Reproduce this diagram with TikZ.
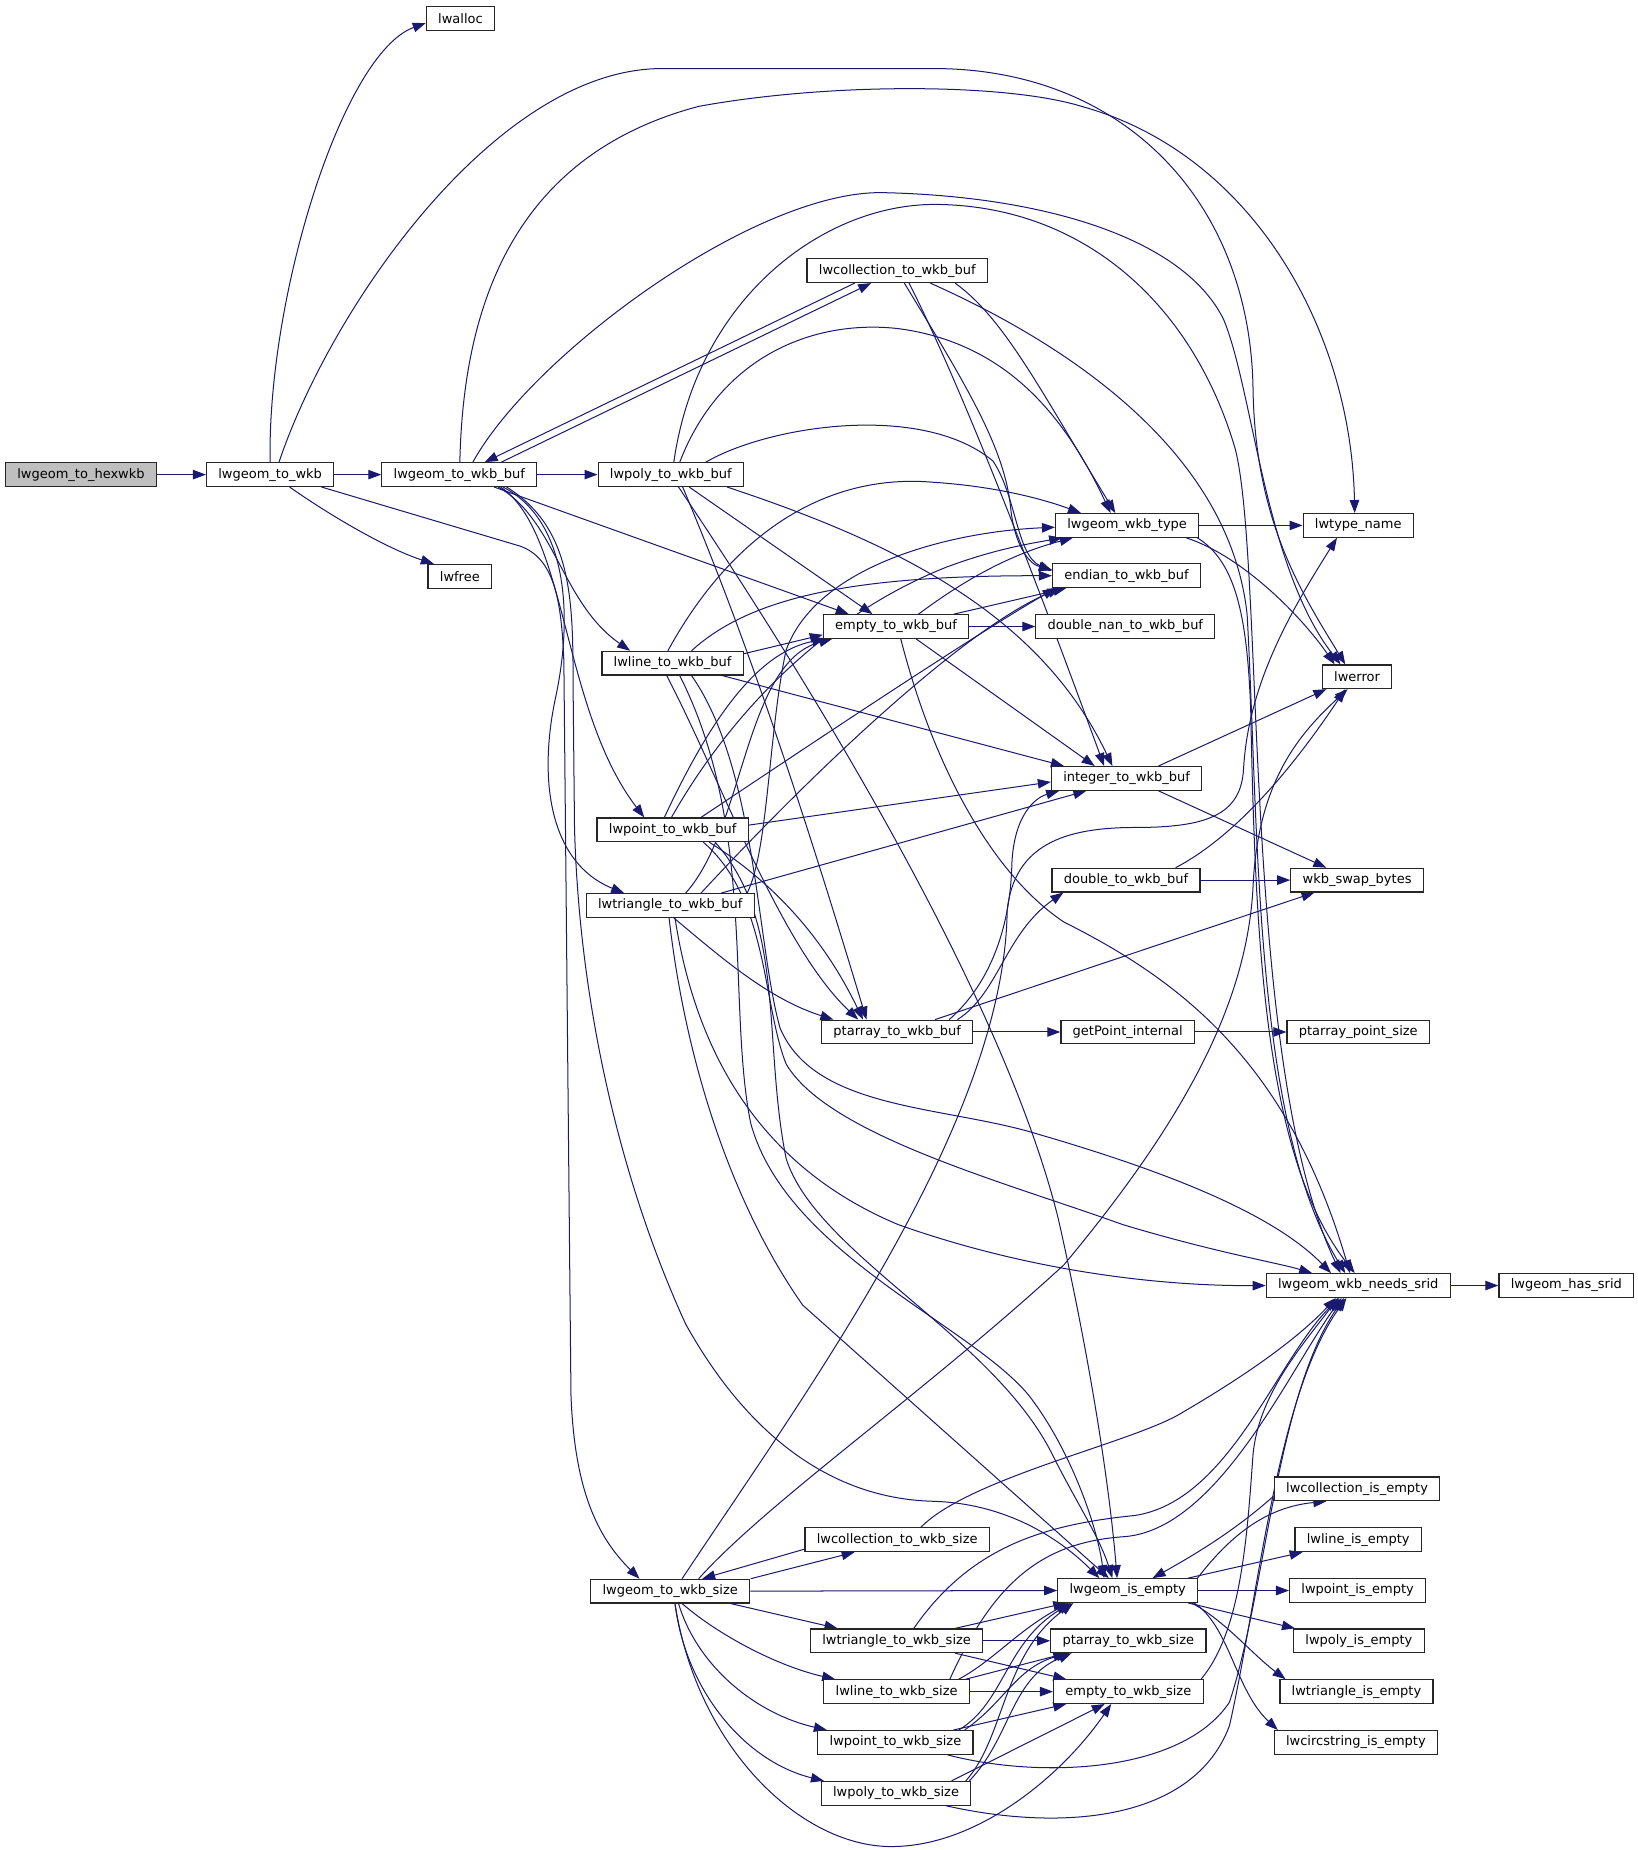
\documentclass[tikz,border=0pt]{standalone}
\usepackage{fontspec}
\setmainfont{DejaVu Sans}
\usetikzlibrary{arrows.meta}
\definecolor{edgec}{HTML}{191970}
\definecolor{hexfill}{HTML}{BFBFBF}
\pgfdeclarelayer{paper}
\pgfdeclarelayer{bg}
\pgfsetlayers{paper,bg,main}
\begin{document}
\begin{tikzpicture}[x=1pt,y=-1pt,
 box/.style={draw=black!85,line width=1pt,fill=white,minimum height=20pt,inner xsep=10pt,inner ysep=0pt,font=\fontsize{11}{13}\selectfont,anchor=center},
 edg/.style={draw=edgec,line width=0.85pt,-{Triangle[length=11pt,width=8pt]}}]
\useasboundingbox (0,0) rectangle (1385,1565);
\begin{pgfonlayer}{paper}
\fill[white] (0,0) rectangle (1385,1565);
\end{pgfonlayer}
% nodes
\node[box,fill=hexfill] (hex) at (68.5,401.5) {lwgeom\_to\_hexwkb};
\node[box] (wkb) at (228.5,401.5) {lwgeom\_to\_wkb};
\node[box] (alloc) at (389.5,15.5) {lwalloc};
\node[box] (free) at (389,487.5) {lwfree};
\node[box] (buf) at (388.5,401.5) {lwgeom\_to\_wkb\_buf};
\node[box] (polybuf) at (567.5,401.5) {lwpoly\_to\_wkb\_buf};
\node[box] (collbuf) at (759,229) {lwcollection\_to\_wkb\_buf};
\node[box] (wkbtype) at (953.5,444.5) {lwgeom\_wkb\_type};
\node[box] (typename) at (1149,444.5) {lwtype\_name};
\node[box] (endian) at (953,487) {endian\_to\_wkb\_buf};
\node[box] (dnan) at (952,530) {double\_nan\_to\_wkb\_buf};
\node[box] (emptybuf) at (758,530) {empty\_to\_wkb\_buf};
\node[box] (linebuf) at (569,561) {lwline\_to\_wkb\_buf};
\node[box] (lwerror) at (1148,572.5) {lwerror};
\node[box] (integer) at (953,658.5) {integer\_to\_wkb\_buf};
\node[box] (pointbuf) at (569,702) {lwpoint\_to\_wkb\_buf};
\node[box] (tribuf) at (567,766) {lwtriangle\_to\_wkb\_buf};
\node[box] (doublebuf) at (952.5,744.5) {double\_to\_wkb\_buf};
\node[box] (swap) at (1148,744.5) {wkb\_swap\_bytes};
\node[box] (ptbuf) at (759,873) {ptarray\_to\_wkb\_buf};
\node[box] (getpoint) at (954,873) {getPoint\_internal};
\node[box] (ptsize) at (1149,873) {ptarray\_point\_size};
\node[box] (needsrid) at (1149,1087.5) {lwgeom\_wkb\_needs\_srid};
\node[box] (hassrid) at (1325,1087.5) {lwgeom\_has\_srid};
\node[box] (collempty) at (1148,1259.5) {lwcollection\_is\_empty};
\node[box] (collsize) at (759,1302.5) {lwcollection\_to\_wkb\_size};
\node[box] (lineempty) at (1149,1302.5) {lwline\_is\_empty};
\node[box] (tosize) at (567,1346) {lwgeom\_to\_wkb\_size};
\node[box] (isempty) at (954,1345.5) {lwgeom\_is\_empty};
\node[box] (pointempty) at (1148.5,1345.5) {lwpoint\_is\_empty};
\node[box] (trisize) at (758.5,1388) {lwtriangle\_to\_wkb\_size};
\node[box] (ptsizeb) at (954.5,1388) {ptarray\_to\_wkb\_size};
\node[box] (polyempty) at (1149.5,1388) {lwpoly\_is\_empty};
\node[box] (linesize) at (758.5,1431) {lwline\_to\_wkb\_size};
\node[box] (emptysize) at (954.5,1431) {empty\_to\_wkb\_size};
\node[box] (triempty) at (1147.5,1431) {lwtriangle\_is\_empty};
\node[box] (pointsize) at (757.5,1474) {lwpoint\_to\_wkb\_size};
\node[box] (circempty) at (1147,1474) {lwcircstring\_is\_empty};
\node[box] (polysize) at (758,1517) {lwpoly\_to\_wkb\_size};
\begin{pgfonlayer}{bg}
% hex, wkb
\draw[edg] (hex.east) -- (wkb.west);
\draw[edg] (wkb.east) -- (buf.west);
\draw[edg] (wkb.north) .. controls (226,250) and (290,45) .. ([yshift=-4pt]alloc.west);
\draw[edg] ([xshift=7.5pt]wkb.north) .. controls (280,260) and (420,58) .. (560,58) -- (790,58) .. controls (950,58) and (1058,170) .. (1060,330) .. controls (1062,440) and (1100,500) .. ([xshift=-10pt]lwerror.north);
\draw[edg] ([xshift=16.5pt]wkb.south) .. controls (285,440) and (330,465) .. ([xshift=-22pt]free.north);
\draw[edg] ([xshift=43.5pt]wkb.south) -- (440,462) .. controls (468,472) and (475,505) .. (477,560) -- (483,1180) .. controls (486,1260) and (505,1300) .. ([xshift=-26pt]tosize.north);
% buf
\draw[edg] (buf.east) -- (polybuf.west);
\draw[edg] ([xshift=35.5pt]buf.north) -- ([xshift=-22pt]collbuf.south);
\draw[edg] ([xshift=-36pt]collbuf.south) -- ([xshift=21.5pt]buf.north);
\draw[edg] ([xshift=0.5pt]buf.north) .. controls (392,250) and (440,130) .. (591,90) .. controls (700,70) and (850,70) .. (915,90) .. controls (1060,130) and (1143,280) .. ([xshift=-3pt]typename.north);
\draw[edg] ([xshift=11.5pt]buf.north) .. controls (450,300) and (640,160) .. (748,163) .. controls (880,166) and (1000,200) .. (1035,270) .. controls (1060,330) and (1070,480) .. ([xshift=-14pt]lwerror.north);
\draw[edg] ([xshift=29.5pt]buf.south) -- ([xshift=-40pt]emptybuf.north);
\draw[edg] ([xshift=33pt]buf.south) .. controls (470,440) and (475,510) .. ([xshift=-36pt]linebuf.north);
\draw[edg] ([xshift=35pt]buf.south) .. controls (480,450) and (475,600) .. ([xshift=-24pt]pointbuf.north);
\draw[edg] ([xshift=37pt]buf.south) .. controls (480,440) and (485,520) .. (470,590) .. controls (455,660) and (465,730) .. ([xshift=-39pt]tribuf.north);
\draw[edg] ([xshift=40pt]buf.south) .. controls (490,450) and (484,520) .. (485,600) -- (486,700) .. controls (490,850) and (525,1000) .. (580,1120) .. controls (630,1210) and (700,1268) .. (790,1270) .. controls (850,1272) and (895,1300) .. ([xshift=-24pt]isempty.north);
% collbuf
\draw[edg] ([xshift=6pt]collbuf.south) .. controls (820,330) and (850,380) .. (855,430) .. controls (858,460) and (870,477) .. ([yshift=5pt]endian.west);
\draw[edg] ([xshift=10pt]collbuf.south) .. controls (815,330) and (880,500) .. ([xshift=-19pt]integer.north);
\draw[edg] ([xshift=49pt]collbuf.south) .. controls (850,270) and (880,330) .. ([xshift=-10pt]wkbtype.north);
\draw[edg] ([xshift=28pt]collbuf.south) .. controls (900,290) and (1040,380) .. (1055,520) .. controls (1065,700) and (1060,950) .. ([xshift=-11pt]needsrid.north);
% polybuf
\draw[edg] ([xshift=7.5pt]polybuf.north) .. controls (610,300) and (690,270) .. (760,278) .. controls (850,290) and (900,350) .. ([xshift=-14pt]wkbtype.north);
\draw[edg] ([xshift=2.5pt]polybuf.north) .. controls (590,250) and (700,170) .. (796,173) .. controls (920,176) and (1010,260) .. (1045,380) .. controls (1070,480) and (1050,900) .. ([xshift=-15pt]needsrid.north);
\draw[edg] ([xshift=29.5pt]polybuf.north) .. controls (650,360) and (780,340) .. (840,390) .. controls (860,420) and (860,470) .. ([yshift=4pt]endian.west);
\draw[edg] ([xshift=15.5pt]polybuf.south) -- ([xshift=-20pt]emptybuf.north);
\draw[edg] ([xshift=47.5pt]polybuf.south) .. controls (760,460) and (880,520) .. ([xshift=-12pt]integer.north);
\draw[edg] ([xshift=6.5pt]polybuf.south) .. controls (700,600) and (850,850) .. (895,1030) .. controls (920,1140) and (938,1250) .. ([xshift=-9pt]isempty.north);
\draw[edg] ([xshift=10pt]polybuf.south) .. controls (640,560) and (690,720) .. ([xshift=-26pt]ptbuf.north);
% linebuf
\draw[edg] ([xshift=-4pt]linebuf.north) .. controls (620,450) and (700,400) .. (790,408) .. controls (850,412) and (890,425) .. ([xshift=-39pt]wkbtype.north);
\draw[edg] ([xshift=16pt]linebuf.north) .. controls (640,500) and (740,487) .. (endian.west);
\draw[edg] ([yshift=8pt]linebuf.east) -- ([yshift=-7pt]emptybuf.west);
\draw[edg] ([xshift=42pt]linebuf.south) -- ([xshift=-53pt]integer.north);
\draw[edg] ([xshift=-5pt]linebuf.south) .. controls (610,660) and (660,800) .. ([xshift=-33pt]ptbuf.north);
\draw[edg] ([xshift=6pt]linebuf.south) .. controls (640,700) and (615,850) .. (635,950) .. controls (665,1060) and (820,1120) .. (870,1180) .. controls (905,1225) and (928,1290) .. ([xshift=-20pt]isempty.north);
\draw[edg] ([xshift=16pt]linebuf.south) .. controls (640,650) and (640,800) .. (660,870) .. controls (690,940) and (800,935) .. (880,960) .. controls (1000,995) and (1080,1030) .. ([xshift=-23pt]needsrid.north);
% pointbuf
\draw[edg] ([xshift=-1pt]pointbuf.north) .. controls (620,600) and (700,520) .. (800,480) .. controls (840,465) and (870,460) .. ([xshift=-55pt]wkbtype.south);
\draw[edg] ([xshift=24pt]pointbuf.north) .. controls (700,620) and (820,540) .. ([xshift=-60pt]endian.south);
\draw[edg] ([xshift=-7pt]pointbuf.north) .. controls (600,610) and (640,552) .. ([xshift=-60pt]emptybuf.south);
\draw[edg] ([yshift=4pt]pointbuf.east) -- ([yshift=-3pt]integer.west);
\draw[edg] ([xshift=31pt]pointbuf.south) .. controls (660,750) and (700,800) .. ([xshift=-29pt]ptbuf.north);
\draw[edg] ([xshift=36pt]pointbuf.south) .. controls (665,780) and (645,880) .. (665,980) .. controls (690,1060) and (840,1130) .. (890,1230) .. controls (910,1270) and (930,1300) .. ([xshift=-13pt]isempty.north);
\draw[edg] ([xshift=26pt]pointbuf.south) .. controls (650,760) and (645,850) .. (665,900) .. controls (700,960) and (850,1000) .. (950,1036) .. controls (1030,1060) and (1080,1068) .. ([xshift=-39pt]needsrid.north);
% tribuf
\draw[edg] ([xshift=65pt]tribuf.north) .. controls (650,720) and (650,620) .. (665,550) .. controls (690,480) and (800,450) .. ([yshift=-1.5pt]wkbtype.west);
\draw[edg] ([xshift=26pt]tribuf.north) .. controls (700,640) and (820,530) .. ([xshift=-56pt]endian.south);
\draw[edg] ([xshift=13pt]tribuf.north) .. controls (630,700) and (630,560) .. ([xshift=-54pt]emptybuf.south);
\draw[edg] ([xshift=43pt]tribuf.north) -- ([xshift=-34pt]integer.south);
\draw[edg] ([xshift=3pt]tribuf.south) .. controls (610,810) and (650,845) .. ([xshift=-54pt]ptbuf.north);
\draw[edg] ([xshift=-1pt]tribuf.south) .. controls (580,900) and (620,1020) .. (679,1104) -- ([xshift=-16pt]isempty.north);
\draw[edg] ([xshift=4pt]tribuf.south) .. controls (590,900) and (650,990) .. (760,1036) .. controls (870,1075) and (980,1088) .. (needsrid.west);
% emptybuf
\draw[edg] ([xshift=19pt]emptybuf.north) .. controls (810,495) and (850,470) .. ([xshift=-46pt]wkbtype.south);
\draw[edg] ([xshift=49pt]emptybuf.north) -- ([xshift=-51pt]endian.south);
\draw[edg] (emptybuf.east) -- (dnan.west);
\draw[edg] ([xshift=17pt]emptybuf.south) -- ([xshift=-27pt]integer.north);
\draw[edg] ([xshift=4pt]emptybuf.south) .. controls (790,650) and (840,740) .. (900,780) .. controls (1000,830) and (1090,900) .. ([xshift=-7pt]needsrid.north);
% wkbtype
\draw[edg] (wkbtype.east) -- (typename.west);
\draw[edg] ([xshift=50pt]wkbtype.south) .. controls (1050,470) and (1100,520) .. ([xshift=-19pt]lwerror.north);
\draw[edg] ([xshift=59.5pt]wkbtype.south) .. controls (1045,475) and (1055,520) .. (1058,600) .. controls (1062,800) and (1070,980) .. ([xshift=-3pt]needsrid.north);
% integer, double, ptbuf
\draw[edg] ([xshift=27pt]integer.north) -- ([xshift=-26pt]lwerror.south);
\draw[edg] ([xshift=27pt]integer.south) -- ([xshift=-26pt]swap.north);
\draw[edg] ([xshift=42pt]doublebuf.north) .. controls (1050,705) and (1100,640) .. ([xshift=-10pt]lwerror.south);
\draw[edg] (doublebuf.east) -- (swap.west);
\draw[edg] (ptbuf.east) -- (getpoint.west);
\draw[edg] (getpoint.east) -- (ptsize.west);
\draw[edg] ([xshift=32pt]ptbuf.north) -- ([xshift=-36pt]swap.south);
\draw[edg] ([xshift=51pt]ptbuf.north) .. controls (845,840) and (850,790) .. ([xshift=-53pt]doublebuf.south);
\draw[edg] ([xshift=44pt]ptbuf.north) .. controls (840,830) and (855,780) .. (856,730) .. controls (858,690) and (875,675) .. ([xshift=-57pt]integer.south);
\draw[edg] (needsrid.east) -- (hassrid.west);
% size
\draw[edg] ([xshift=10pt]tosize.north) .. controls (680,1180) and (850,950) .. (852,770) .. controls (858,715) and (900,700) .. (960,700) .. controls (1020,700) and (1050,690) .. (1052,650) .. controls (1056,580) and (1090,520) .. ([xshift=-18pt]typename.south);
\draw[edg] ([xshift=24pt]tosize.north) .. controls (650,1270) and (780,1180) .. (900,1070) .. controls (1000,950) and (1055,850) .. (1060,750) .. controls (1064,660) and (1100,620) .. ([xshift=-8pt]lwerror.south);
\draw[edg] ([xshift=68pt]tosize.north) -- ([xshift=-36pt]collsize.south);
\draw[edg] ([yshift=-8pt]collsize.west) -- ([xshift=27pt]tosize.north);
\draw[edg] (tosize.east) -- (isempty.west);
\draw[edg] ([xshift=51pt]tosize.south) -- ([xshift=-50pt]trisize.north);
\draw[edg] ([xshift=10pt]tosize.south) .. controls (610,1385) and (660,1410) .. ([xshift=-52pt]linesize.north);
\draw[edg] ([xshift=7pt]tosize.south) .. controls (590,1410) and (640,1450) .. ([xshift=-58pt]pointsize.north);
\draw[edg] ([xshift=4pt]tosize.south) .. controls (580,1430) and (630,1490) .. ([xshift=-61pt]polysize.north);
\draw[edg] ([xshift=4pt]tosize.south) .. controls (590,1480) and (680,1565) .. (758,1562) .. controls (830,1560) and (900,1500) .. ([xshift=-14.5pt]emptysize.south);
\draw[edg] ([xshift=20pt]collsize.north) .. controls (820,1250) and (960,1220) .. (1000,1195) .. controls (1060,1160) and (1100,1130) .. ([xshift=-19pt]needsrid.south);
\draw[edg] ([xshift=49.5pt]trisize.north) -- ([xshift=-52pt]isempty.south);
\draw[edg] (trisize.east) -- (ptsizeb.west);
\draw[edg] ([xshift=49.5pt]trisize.south) -- ([xshift=-52.5pt]emptysize.north);
\draw[edg] ([xshift=14.5pt]trisize.north) .. controls (820,1310) and (880,1290) .. (960,1282) .. controls (1040,1270) and (1080,1150) .. ([xshift=-16pt]needsrid.south);
\draw[edg] ([xshift=52.5pt]linesize.north) .. controls (840,1405) and (860,1380) .. ([xshift=-50pt]isempty.south);
\draw[edg] ([xshift=58.5pt]linesize.north) -- ([xshift=-52.5pt]ptsizeb.south);
\draw[edg] (linesize.east) -- (emptysize.west);
\draw[edg] ([xshift=45pt]linesize.north) .. controls (840,1340) and (880,1305) .. (950,1300) .. controls (1030,1295) and (1090,1160) .. ([xshift=-14pt]needsrid.south);
\draw[edg] ([xshift=53.5pt]pointsize.north) .. controls (850,1440) and (850,1390) .. ([xshift=-48pt]isempty.south);
\draw[edg] ([xshift=58.5pt]pointsize.north) .. controls (850,1440) and (860,1410) .. ([xshift=-50pt]ptsizeb.south);
\draw[edg] ([xshift=49pt]pointsize.north) -- ([xshift=-52.5pt]emptysize.south);
\draw[edg] ([xshift=44pt]pointsize.south) .. controls (880,1505) and (1000,1500) .. (1040,1440) .. controls (1070,1350) and (1080,1180) .. ([xshift=-12pt]needsrid.south);
\draw[edg] ([xshift=59pt]polysize.north) .. controls (850,1470) and (848,1400) .. ([xshift=-46pt]isempty.south);
\draw[edg] ([xshift=62pt]polysize.north) .. controls (855,1470) and (855,1420) .. ([xshift=-48pt]ptsizeb.south);
\draw[edg] ([xshift=47pt]polysize.north) -- ([xshift=-20pt]emptysize.south);
\draw[edg] ([xshift=42pt]polysize.south) .. controls (900,1550) and (1010,1540) .. (1040,1460) .. controls (1065,1350) and (1080,1180) .. ([xshift=-10pt]needsrid.south);
\draw[edg] ([xshift=61.5pt]emptysize.north) .. controls (1050,1380) and (1055,1300) .. (1060,1230) .. controls (1065,1180) and (1100,1140) .. ([xshift=-17pt]needsrid.south);
% isempty
\draw[edg] ([xshift=59pt]isempty.north) .. controls (1040,1300) and (1070,1275) .. ([xshift=-26pt]collempty.south);
\draw[edg] ([yshift=-6pt]collempty.west) .. controls (1050,1290) and (1020,1310) .. ([xshift=21pt]isempty.north);
\draw[edg] ([xshift=51pt]isempty.north) -- ([xshift=-47pt]lineempty.south);
\draw[edg] (isempty.east) -- (pointempty.west);
\draw[edg] ([xshift=51pt]isempty.south) -- ([xshift=-54pt]polyempty.north);
\draw[edg] ([xshift=54pt]isempty.south) .. controls (1035,1370) and (1060,1400) .. ([xshift=-60pt]triempty.north);
\draw[edg] ([xshift=56pt]isempty.south) .. controls (1040,1375) and (1045,1430) .. ([xshift=-66pt]circempty.north);
\end{pgfonlayer}
\end{tikzpicture}
\end{document}
